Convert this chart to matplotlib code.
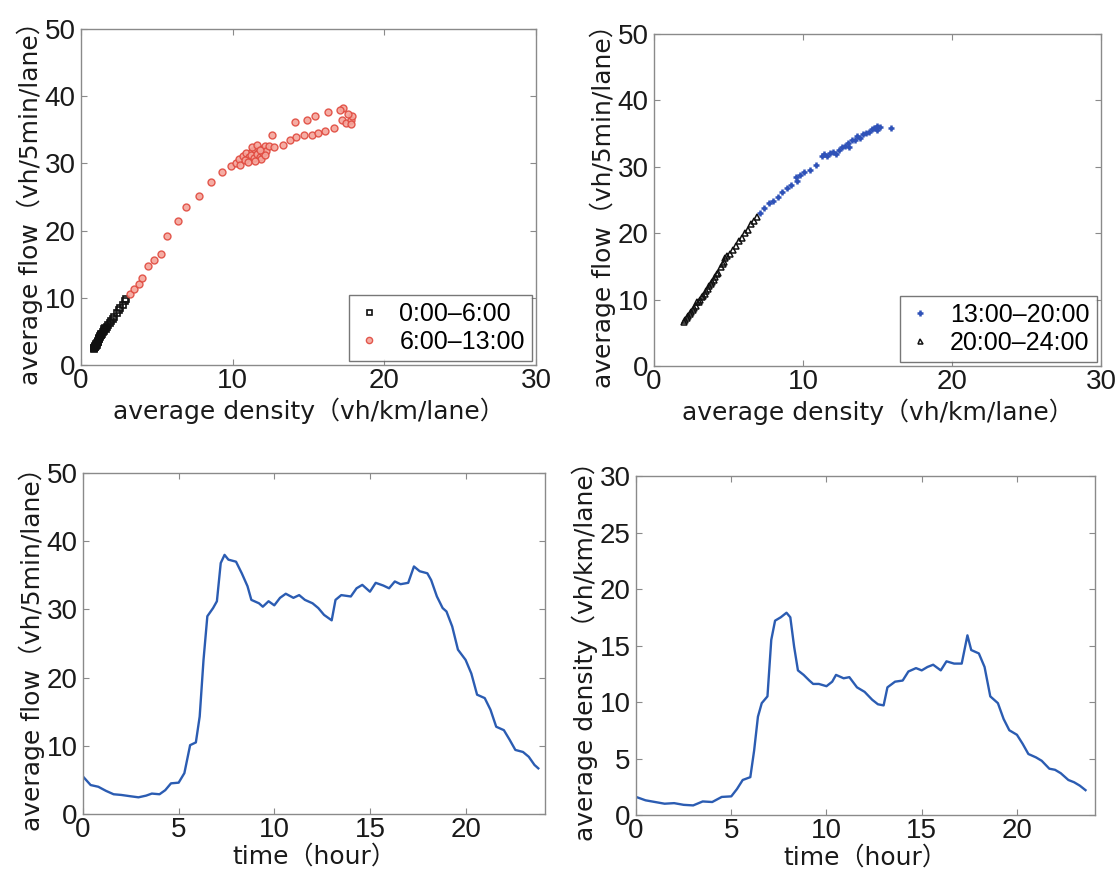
"""Traffic flow / density plots: fundamental diagram and daily profiles."""

import matplotlib
matplotlib.use("Agg")
import matplotlib.pyplot as plt
from matplotlib.ticker import MultipleLocator

# ---- fundamental diagram, 0:00-6:00 (black squares) ----
dens_00_06 = [0.85, 0.87, 0.88, 0.9, 0.92, 0.95, 0.98, 1.0, 1.02, 1.05, 1.08, 1.1, 1.12,
              1.15, 1.18, 1.2, 1.22, 1.25, 1.28, 1.3, 1.33, 1.35, 1.4, 1.45, 1.5, 1.55,
              1.6, 1.65, 1.7, 1.8, 1.9, 2.0, 2.1, 2.2, 2.35, 2.5, 2.6, 2.75, 2.9, 3.0]
flow_00_06 = [2.45, 2.5, 2.6, 2.7, 2.7, 2.8, 2.9, 3.0, 3.1, 3.0, 3.3, 3.4, 3.5,
              3.6, 3.8, 3.9, 4.0, 4.1, 4.3, 4.4, 4.5, 4.6, 4.6, 4.9, 5.1, 5.4,
              5.5, 5.4, 5.6, 5.9, 6.2, 6.6, 6.9, 7.2, 7.7, 8.2, 8.5, 9.0, 9.5, 9.9]

# ---- fundamental diagram, 6:00-13:00 (red circles) ----
dens_06_13 = [3.2, 3.5, 3.8, 4.0, 4.4, 4.8, 5.3, 5.7, 6.4, 6.9, 7.8, 8.6, 9.3, 9.9,
              10.2, 10.4, 10.7, 10.9, 11.1, 11.3, 11.5, 11.7, 11.9, 12.1, 10.5, 10.8,
              11.0, 11.2, 11.4, 11.6, 11.8, 12.0, 12.2, 11.3, 11.6, 11.9, 12.1, 11.5,
              11.8, 12.4, 12.6, 12.7, 13.3, 13.8, 14.2, 14.7, 15.2, 15.6, 16.1, 16.7,
              17.2, 17.5, 17.8, 17.9, 17.8, 17.6, 17.3, 17.1, 16.3, 15.4, 14.9, 14.1]
flow_06_13 = [10.5, 11.3, 12.0, 13.0, 14.7, 15.7, 16.5, 19.2, 21.4, 23.5, 25.1, 27.2,
              28.8, 29.6, 30.1, 30.6, 31.1, 31.5, 31.0, 31.8, 32.0, 31.5, 32.2, 32.6,
              29.8, 30.5, 30.2, 31.2, 30.8, 31.4, 31.0, 31.6, 31.9, 32.4, 32.8, 30.6,
              31.2, 30.4, 32.0, 32.6, 34.3, 32.4, 32.8, 33.5, 34.0, 34.3, 34.3, 34.6,
              34.8, 35.3, 36.5, 36.0, 36.5, 37.0, 35.8, 37.3, 38.3, 38.0, 37.6, 37.0,
              36.4, 36.1]

# ---- fundamental diagram, 13:00-20:00 (blue plus) ----
dens_13_20 = [7.1, 7.4, 7.7, 8.0, 8.3, 8.6, 8.9, 9.2, 9.5, 9.6, 9.8, 10.1, 10.5, 10.9,
              11.3, 11.4, 11.6, 11.8, 12.0, 12.2, 12.4, 12.6, 12.8, 13.0, 13.1, 13.3,
              13.5, 13.6, 13.8, 14.0, 14.2, 14.4, 14.6, 14.8, 15.0, 15.2, 15.0, 15.9]
flow_13_20 = [23.0, 23.8, 24.6, 24.9, 25.5, 26.2, 26.8, 27.2, 28.5, 27.9, 28.8, 29.2,
              29.5, 30.3, 31.6, 32.0, 31.6, 32.1, 32.3, 32.0, 32.5, 33.0, 33.2, 33.6,
              33.0, 34.1, 34.0, 34.6, 34.4, 35.0, 35.1, 35.3, 35.7, 35.8, 36.1, 36.0,
              35.6, 35.8]

# ---- fundamental diagram, 20:00-24:00 (black triangles) ----
dens_20_24 = [6.9, 6.7, 6.5, 6.3, 6.1, 5.9, 5.7, 5.5, 5.3, 5.1, 4.9, 4.8, 4.7, 4.6, 4.5,
              4.3, 4.2, 4.1, 4.0, 3.9, 3.8, 3.7, 3.6, 3.5, 3.4, 3.3, 3.2, 3.1, 3.0, 2.9,
              2.8, 2.7, 2.6, 2.5, 2.4, 2.3, 2.2, 2.1, 2.0]
flow_20_24 = [22.5, 21.9, 21.4, 20.5, 20.0, 19.3, 18.8, 18.0, 17.5, 16.9, 16.6, 16.2,
              15.6, 15.3, 14.9, 14.0, 13.8, 13.4, 13.0, 12.6, 12.3, 12.0, 11.6, 11.3,
              10.9, 10.6, 10.4, 10.0, 9.7, 9.6, 9.1, 8.8, 8.5, 8.2, 7.9, 7.6, 7.2, 7.0, 6.7]

# ---- daily flow profile ----
hours_flow = [0.0, 0.4, 0.8, 1.2, 1.6, 2.0, 2.5, 2.9, 3.3, 3.6, 4.0, 4.3, 4.6, 5.0, 5.3,
              5.6, 5.9, 6.1, 6.3, 6.5, 6.8, 7.0, 7.2, 7.4, 7.6, 8.0, 8.3, 8.6, 8.8, 9.2,
              9.4, 9.7, 10.0, 10.3, 10.6, 11.0, 11.3, 11.6, 12.0, 12.3, 12.6, 13.0, 13.2,
              13.5, 14.0, 14.3, 14.6, 15.0, 15.3, 15.7, 16.0, 16.3, 16.6, 17.0, 17.3,
              17.6, 18.0, 18.2, 18.5, 18.8, 19.0, 19.3, 19.6, 20.0, 20.3, 20.6, 21.0,
              21.3, 21.6, 22.0, 22.3, 22.6, 23.0, 23.3, 23.6, 23.8]
flow_series = [5.5, 4.25, 4.0, 3.4, 2.9, 2.8, 2.6, 2.45, 2.7, 3.0, 2.9, 3.5, 4.5, 4.6,
               6.0, 10.1, 10.5, 14.3, 22.6, 29.0, 30.2, 31.2, 36.8, 38.0, 37.3, 37.0,
               35.3, 33.4, 31.4, 30.9, 30.4, 31.2, 30.6, 31.7, 32.3, 31.7, 32.1, 31.4,
               30.9, 30.2, 29.2, 28.4, 31.4, 32.1, 31.9, 33.1, 33.6, 32.6, 33.9, 33.5,
               33.1, 34.1, 33.7, 33.9, 36.3, 35.6, 35.3, 34.3, 31.9, 30.2, 29.7, 27.5,
               24.1, 22.6, 20.6, 17.5, 17.0, 15.3, 12.8, 12.3, 10.9, 9.4, 9.1, 8.4, 7.2,
               6.7]

# ---- daily density profile ----
hours_dens = [0.0, 0.5, 1.0, 1.5, 2.0, 2.5, 3.0, 3.5, 4.0, 4.5, 5.0, 5.3, 5.6, 6.0, 6.2,
              6.4, 6.6, 6.9, 7.1, 7.3, 7.6, 7.9, 8.1, 8.3, 8.5, 8.8, 9.1, 9.3, 9.6, 10.0,
              10.3, 10.5, 10.9, 11.2, 11.6, 12.0, 12.4, 12.7, 13.0, 13.2, 13.6, 14.0,
              14.3, 14.7, 15.0, 15.3, 15.6, 16.0, 16.3, 16.7, 17.1, 17.4, 17.6, 18.0,
              18.3, 18.6, 19.0, 19.3, 19.6, 20.0, 20.3, 20.6, 21.0, 21.3, 21.7, 22.0,
              22.3, 22.7, 23.0, 23.3, 23.6]
dens_series = [1.6, 1.3, 1.15, 1.0, 1.05, 0.9, 0.85, 1.2, 1.15, 1.6, 1.65, 2.3, 3.1,
               3.35, 5.7, 8.7, 9.9, 10.5, 15.5, 17.2, 17.5, 17.9, 17.5, 14.9, 12.8, 12.4,
               11.9, 11.6, 11.6, 11.4, 11.8, 12.4, 12.1, 12.2, 11.3, 10.9, 10.2, 9.8,
               9.7, 11.3, 11.8, 11.9, 12.7, 13.0, 12.8, 13.1, 13.3, 12.8, 13.6, 13.4,
               13.4, 15.9, 14.6, 14.3, 13.1, 10.5, 9.9, 8.5, 7.5, 7.1, 6.3, 5.4, 5.1,
               4.8, 4.1, 4.0, 3.7, 3.1, 2.9, 2.6, 2.2]

LABEL_FONT = ["DejaVu Sans", "Noto Sans CJK JP"]
LABEL_SIZE = 18
LINE_BLUE = "#2b5cb2"

plt.rcParams["font.family"] = ["Liberation Sans", "DejaVu Sans"]


def style_axes(ax, xlim, ylim, xstep, ystep):
    """MATLAB-like frame: grey box, inward ticks on all sides."""
    ax.set_xlim(*xlim)
    ax.set_ylim(*ylim)
    ax.xaxis.set_major_locator(MultipleLocator(xstep))
    ax.yaxis.set_major_locator(MultipleLocator(ystep))
    ax.tick_params(direction="in", top=True, right=True, length=4, width=0.8,
                   color="#8a8a8a", labelsize=20, labelcolor="#1a1a1a")
    ax.tick_params(axis="x", pad=2)
    ax.tick_params(axis="y", pad=4)
    for sp in ax.spines.values():
        sp.set_color("#8a8a8a")
        sp.set_linewidth(1.0)


def set_labels(ax, xlabel, ylabel, xpad=3):
    ax.set_xlabel(xlabel, fontsize=LABEL_SIZE, family=LABEL_FONT, labelpad=xpad,
                  color="#1a1a1a")
    ax.set_ylabel(ylabel, fontsize=LABEL_SIZE, family=LABEL_FONT, labelpad=1,
                  color="#1a1a1a")


def add_legend(ax):
    leg = ax.legend(loc="lower right", fontsize=18, frameon=True, fancybox=False,
                    borderaxespad=0.15, borderpad=0.3, handlelength=1.0,
                    handletextpad=0.7, labelspacing=0.15, markerscale=0.9)
    leg.get_frame().set_edgecolor("#555555")
    leg.get_frame().set_linewidth(1.0)


fig = plt.figure(figsize=(11.2, 8.83), dpi=100)
ax_tl = fig.add_axes([0.0723, 0.5866, 0.4063, 0.3805])
ax_tr = fig.add_axes([0.5839, 0.5855, 0.3991, 0.376])
ax_bl = fig.add_axes([0.0741, 0.0781, 0.4125, 0.3862])
ax_br = fig.add_axes([0.5679, 0.0770, 0.4098, 0.3839])

# top left: morning
ax_tl.plot(dens_00_06, flow_00_06, ls="none", marker="s", ms=4, mfc="none",
           mec="#111111", mew=1.2, label="0:00–6:00")
ax_tl.plot(dens_06_13, flow_06_13, ls="none", marker="o", ms=5, mfc="#f4a49a",
           mec="#e0493e", mew=1.0, alpha=0.9, label="6:00–13:00")
style_axes(ax_tl, (0, 30), (0, 50), 10, 10)
set_labels(ax_tl, "average density（vh/km/lane）", "average flow（vh/5min/lane）")
add_legend(ax_tl)

# top right: afternoon / evening
ax_tr.plot(dens_13_20, flow_13_20, ls="none", marker="+", ms=5, mec="#2f52b8",
           mew=1.8, label="13:00–20:00")
ax_tr.plot(dens_20_24, flow_20_24, ls="none", marker="^", ms=4, mfc="none",
           mec="#111111", mew=1.1, label="20:00–24:00")
style_axes(ax_tr, (0, 30), (0, 50), 10, 10)
set_labels(ax_tr, "average density（vh/km/lane）", "average flow（vh/5min/lane）")
add_legend(ax_tr)

# bottom left: flow over the day
ax_bl.plot(hours_flow, flow_series, color=LINE_BLUE, lw=1.7)
style_axes(ax_bl, (0, 24.15), (0, 50), 5, 10)
set_labels(ax_bl, "time（hour）", "average flow（vh/5min/lane）", xpad=1)

# bottom right: density over the day
ax_br.plot(hours_dens, dens_series, color=LINE_BLUE, lw=1.7)
style_axes(ax_br, (0, 24.1), (0, 30), 5, 5)
set_labels(ax_br, "time（hour）", "average density（vh/km/lane）", xpad=1)

fig.savefig("out.png", dpi=100)
plt.close(fig)
